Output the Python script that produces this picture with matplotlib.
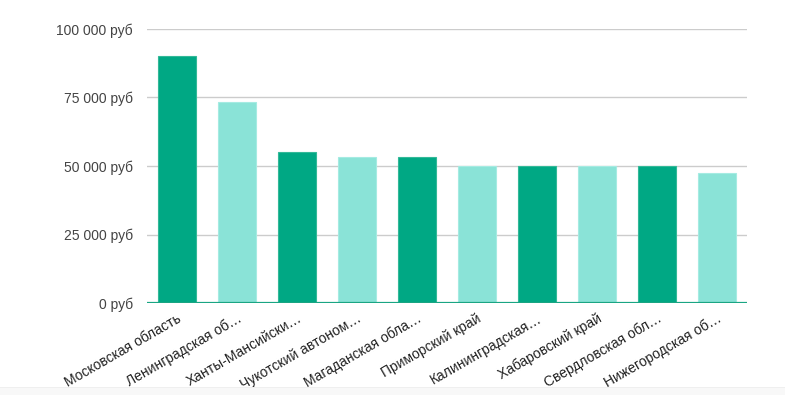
import matplotlib
matplotlib.use('Agg')
import matplotlib.pyplot as plt
from matplotlib.patches import Rectangle

plt.rcParams['font.family'] = ['Liberation Sans', 'DejaVu Sans']

regions = ['Московская область', 'Ленинградская об…', 'Ханты-Мансийски…',
           'Чукотский автоном…', 'Магаданская обла…', 'Приморский край',
           'Калининградская…', 'Хабаровский край', 'Свердловская обл…',
           'Нижегородская об…']
salaries = [90000, 73200, 55000, 53200, 53200, 50000, 50000, 50000, 50000, 47300]
yticks = [0, 25000, 50000, 75000, 100000]
ytick_labels = ['0 руб', '25 000 руб', '50 000 руб', '75 000 руб', '100 000 руб']

dark = '#00a884'
light = '#8ae3d7'
colors = [dark if i % 2 == 0 else light for i in range(len(salaries))]
edges = ['#33b998' if i % 2 == 0 else '#a5ebe2' for i in range(len(salaries))]

fig = plt.figure(figsize=(7.85, 3.95), dpi=100)
ax = fig.add_axes([147/785, 1-303/395, 600/785, 274/395])

x = range(len(salaries))
ax.bar(x, salaries, width=0.63, color=colors, edgecolor=edges, linewidth=0.8, zorder=2)

ax.set_xlim(-0.5, 9.5)
ax.set_ylim(0, 100000)
ax.set_yticks(yticks)
ax.set_yticklabels(ytick_labels)
ax.yaxis.grid(True, color='#cccccc', linewidth=1, zorder=0)
ax.axhline(0, color='#1aa583', linewidth=1.6, zorder=3)

for s in ax.spines.values():
    s.set_visible(False)

ax.tick_params(axis='y', length=0, pad=10, labelsize=10, labelcolor='#444444')
ax.tick_params(axis='x', length=0, pad=6, labelsize=10, labelcolor='#222222')
ax.set_xticks(list(x))
ax.set_xticklabels(regions, rotation=30, ha='right', rotation_mode='anchor')

# light strip at the bottom of the page
fig.patches.append(Rectangle((0, 0), 1, 7/395, transform=fig.transFigure,
                             facecolor='#f8f8f8', edgecolor='none'))
fig.patches.append(Rectangle((0, 7/395), 1, 1/395, transform=fig.transFigure,
                             facecolor='#efefef', edgecolor='none'))

fig.savefig('out.png', dpi=100)
